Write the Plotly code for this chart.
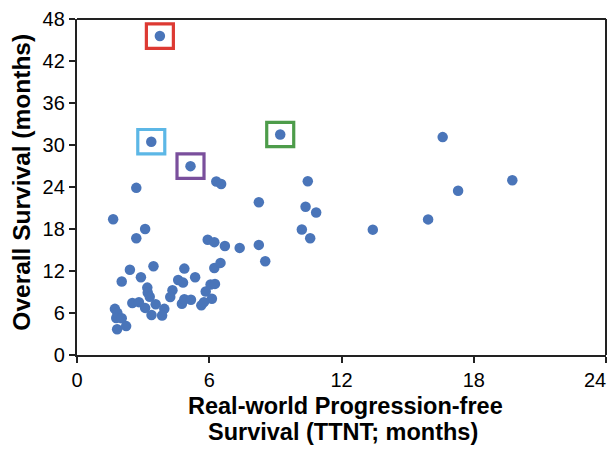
import plotly.graph_objects as go

# Real-world PFS (TTNT; months) vs Overall Survival (months)
pfs = [3.76, 3.37, 5.15, 9.22, 6.32, 6.54, 2.69, 8.25, 10.47, 10.37,
       1.64, 3.09, 10.20, 16.59, 19.75, 17.29, 10.85, 15.93, 13.42, 10.58,
       2.69, 5.93, 6.23, 6.71, 7.38, 8.25, 8.54, 2.40, 3.47, 4.87,
       6.23, 6.51, 2.03, 2.90, 3.19, 3.21, 3.30, 4.59, 4.81, 5.36,
       4.33, 4.23, 5.84, 6.06, 6.26, 6.12, 2.51, 2.81, 3.09, 3.57,
       3.96, 3.86, 3.38, 4.76, 4.87, 5.17, 5.64, 5.76, 1.72, 1.83,
       1.78, 2.03, 2.23, 1.82]
os_ = [45.56, 30.47, 26.98, 31.50, 24.78, 24.44, 23.88, 21.83, 24.82, 21.18,
       19.39, 18.01, 17.94, 31.13, 24.96, 23.46, 20.35, 19.37, 17.91, 16.69,
       16.67, 16.47, 16.12, 15.56, 15.30, 15.73, 13.40, 12.17, 12.69, 12.34,
       12.44, 13.16, 10.51, 11.10, 9.63, 8.91, 8.32, 10.72, 10.34, 11.10,
       9.24, 8.28, 9.06, 10.08, 10.16, 8.04, 7.43, 7.55, 6.73, 7.26,
       6.59, 5.64, 5.71, 7.33, 7.97, 7.90, 7.09, 7.55, 6.59, 6.02,
       5.29, 5.26, 4.13, 3.67]

# highlighted patients (index into the lists above) and box colours
highlight_idx = [0, 1, 2, 3]
highlight_colors = ["#dd3a33", "#5cb7e6", "#7a4f9c", "#4d9c4a"]

x_ticks = [0, 6, 12, 18, 24]
y_ticks = [0, 6, 12, 18, 24, 30, 36, 42, 48]

W, H = 614, 453
L, R, T, B = 77.3, 614 - 606.4, 15.7, 453 - 355.5
PW, PH = W - L - R, H - T - B

fig = go.Figure()
fig.add_trace(go.Scatter(
    x=pfs, y=os_, mode="markers",
    marker=dict(size=10.5, color="#4a75b9", line=dict(width=0)),
    showlegend=False, hoverinfo="x+y"))

shapes = []
for i, c in zip(highlight_idx, highlight_colors):
    shapes.append(dict(type="rect", xref="x", yref="y",
                       xsizemode="pixel", ysizemode="pixel",
                       xanchor=pfs[i], yanchor=os_[i],
                       x0=-13.5, x1=13.5, y0=-12.2, y1=12.2,
                       line=dict(color=c, width=3.2), layer="above"))
# top and right frame lines (thinner than the axes)
shapes.append(dict(type="line", xref="paper", yref="paper", x0=0, x1=1, y0=1, y1=1,
                   line=dict(color="#222222", width=2)))
shapes.append(dict(type="line", xref="paper", yref="paper", x0=1, x1=1, y0=0, y1=1,
                   line=dict(color="#222222", width=2)))

def px_to_paper_x(px):
    return (px - L) / PW

def px_to_paper_y(py):
    return (H - B - py) / PH

font_family = "Liberation Sans, Arial, sans-serif"
tick_font = dict(size=20, color="black", family=font_family)

# the last x tick label sits at the very edge of the page, so it is placed
# as a right-aligned label ending just past the tick (as in the reference)
x_ticktext = [str(v) for v in x_ticks]
last_label = x_ticktext[-1]
x_ticktext[-1] = ""

annotations = [
    dict(text="<b>Overall Survival (months)</b>", textangle=-90,
         xref="paper", yref="paper", x=px_to_paper_x(21.5), y=px_to_paper_y(181),
         xanchor="center", yanchor="middle", showarrow=False,
         font=dict(size=24.5, color="black", family=font_family)),
    dict(text="<b>Real-world Progression-free</b>",
         xref="paper", yref="paper", x=px_to_paper_x(345.5), y=px_to_paper_y(407.5),
         xanchor="center", yanchor="middle", showarrow=False,
         font=dict(size=23.5, color="black", family=font_family)),
    dict(text="<b>Survival (TTNT; months)</b>",
         xref="paper", yref="paper", x=px_to_paper_x(343.3), y=px_to_paper_y(433.5),
         xanchor="center", yanchor="middle", showarrow=False,
         font=dict(size=23.5, color="black", family=font_family)),
    dict(text=last_label, xref="x", yref="paper", x=x_ticks[-1], y=0,
         xanchor="right", yanchor="top", xshift=2, yshift=-12, showarrow=False,
         font=tick_font),
]

axis_common = dict(showgrid=False, zeroline=False, showline=True,
                   linecolor="#222222", linewidth=2.4,
                   ticks="outside", ticklen=6, tickwidth=2.4, tickcolor="#222222",
                   tickfont=tick_font)

fig.update_layout(
    width=W, height=H,
    margin=dict(l=L, r=R, t=T, b=B, pad=0),
    paper_bgcolor="white", plot_bgcolor="white",
    xaxis=dict(range=[0, 24], tickvals=x_ticks, ticktext=x_ticktext, **axis_common),
    yaxis=dict(range=[0, 48], tickvals=y_ticks, ticktext=[str(v) for v in y_ticks], **axis_common),
    shapes=shapes, annotations=annotations,
    font=dict(family=font_family),
)

fig.write_html("out.html")
